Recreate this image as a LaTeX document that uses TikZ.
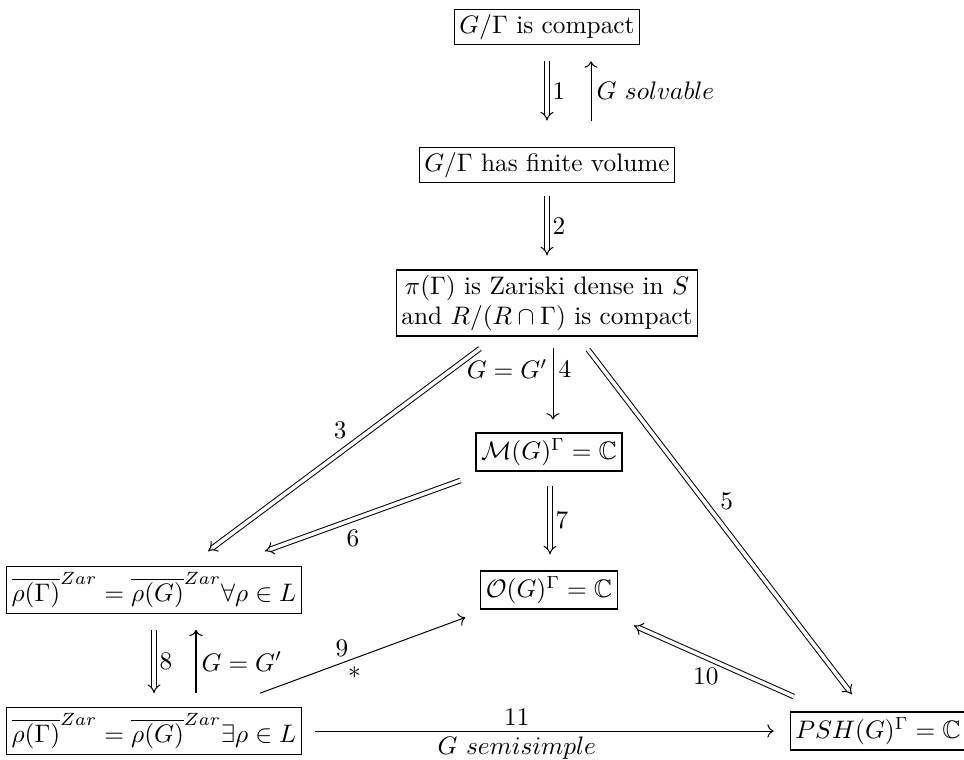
\documentclass[tikz,border=0pt]{standalone}
\usepackage{amsmath,amssymb}
\usetikzlibrary{arrows.meta,calc}
\begin{document}
\begin{tikzpicture}[x=0.395pt,y=-0.395pt,
  box/.style={draw,line width=0.5pt,inner xsep=2pt,inner ysep=2pt},
  imp/.style={double,double distance=1.4pt,line width=0.4pt,-{Implies}},
  sgl/.style={line width=0.4pt,-{To}},
  lbl/.style={inner sep=2pt}]
\useasboundingbox (0,0) rectangle (964,760);
\node[box] (A) at (547,27) {$G/\Gamma$ is compact};
\node[box] (B) at (547,165) {$G/\Gamma$ has finite volume};
\node[box,align=center] (C) at (547,303) {$\pi(\Gamma)$ is Zariski dense in $S$\\and $R/(R\cap\Gamma)$ is compact};
\node[box] (D) at (549,452) {$\mathcal{M}(G)^\Gamma=\mathbb{C}$};
\node[box] (E) at (549,590) {$\mathcal{O}(G)^\Gamma=\mathbb{C}$};
\node[box] (F) at (154,590) {$\overline{\rho(\Gamma)}^{Zar}=\overline{\rho(G)}^{Zar}\forall\rho\in L$};
\node[box] (K) at (154,731) {$\overline{\rho(\Gamma)}^{Zar}=\overline{\rho(G)}^{Zar}\exists\rho\in L$};
\node[box] (H) at (878,731) {$PSH(G)^\Gamma=\mathbb{C}$};
% 1 and G solvable
\draw[imp] ($(A.south)+(0,16)$) -- ($(B.north)+(0,-26)$) node[midway,right,lbl]{$1$};
\draw[sgl] ($(B.north)+(44,-26)$) -- ($(A.south)+(44,16)$) node[midway,right,lbl]{$G\ solvable$};
% 2
\draw[imp] ($(B.south)+(0,13)$) -- ($(C.north)+(0,-14)$) node[midway,right,lbl]{$2$};
% 4
\draw[sgl] ($(C.south)+(6,11)$) -- ($(D.north)+(4,-13)$) node[pos=0.3,right,lbl]{$4$} node[pos=0.3,left,lbl]{$G=G'$};
% 3
\draw[imp] ($(C.south)+(-67,12)$) -- ($(F.north)+(54,-15)$) node[pos=0.47,above left,lbl]{$3$};
% 5
\draw[imp] ($(C.south)+(41,13)$) -- ($(H.north)+(-26,-17)$) node[pos=0.48,above right,lbl]{$5$};
% 6
\draw[imp] ($(D.south west)+(-15,9)$) -- ($(F.north)+(111,-15)$) node[pos=0.55,below,inner sep=4pt]{$6$};
% 7
\draw[imp] ($(D.south)+(1,14)$) -- ($(E.north)+(1,-16)$) node[midway,right,lbl]{$7$};
% 8 and G=G'
\draw[imp] ($(F.south)+(0,16)$) -- ($(K.north)+(0,-14)$) node[midway,right,lbl]{$8$};
\draw[sgl] ($(K.north)+(42,-14)$) -- ($(F.south)+(42,16)$) node[midway,right,lbl]{$G=G'$};
% 9
\draw[sgl] ($(K.north)+(106,-14)$) -- ($(E.south west)+(-15,8)$) node[pos=0.40,above,inner sep=2.5pt]{$9$} node[pos=0.46,below,inner sep=3pt]{$*$};
% 10
\draw[imp] ($(H.north west)+(4,-15)$) -- ($(E.south east)+(16,16)$) node[pos=0.55,below,inner sep=4pt]{$10$};
% 11
\draw[sgl] ($(K.east)+(13,0)$) -- ($(H.west)+(-16,0)$) node[pos=0.44,above,lbl]{$11$} node[pos=0.44,below,lbl]{$G\ semisimple$};
\end{tikzpicture}
\end{document}
